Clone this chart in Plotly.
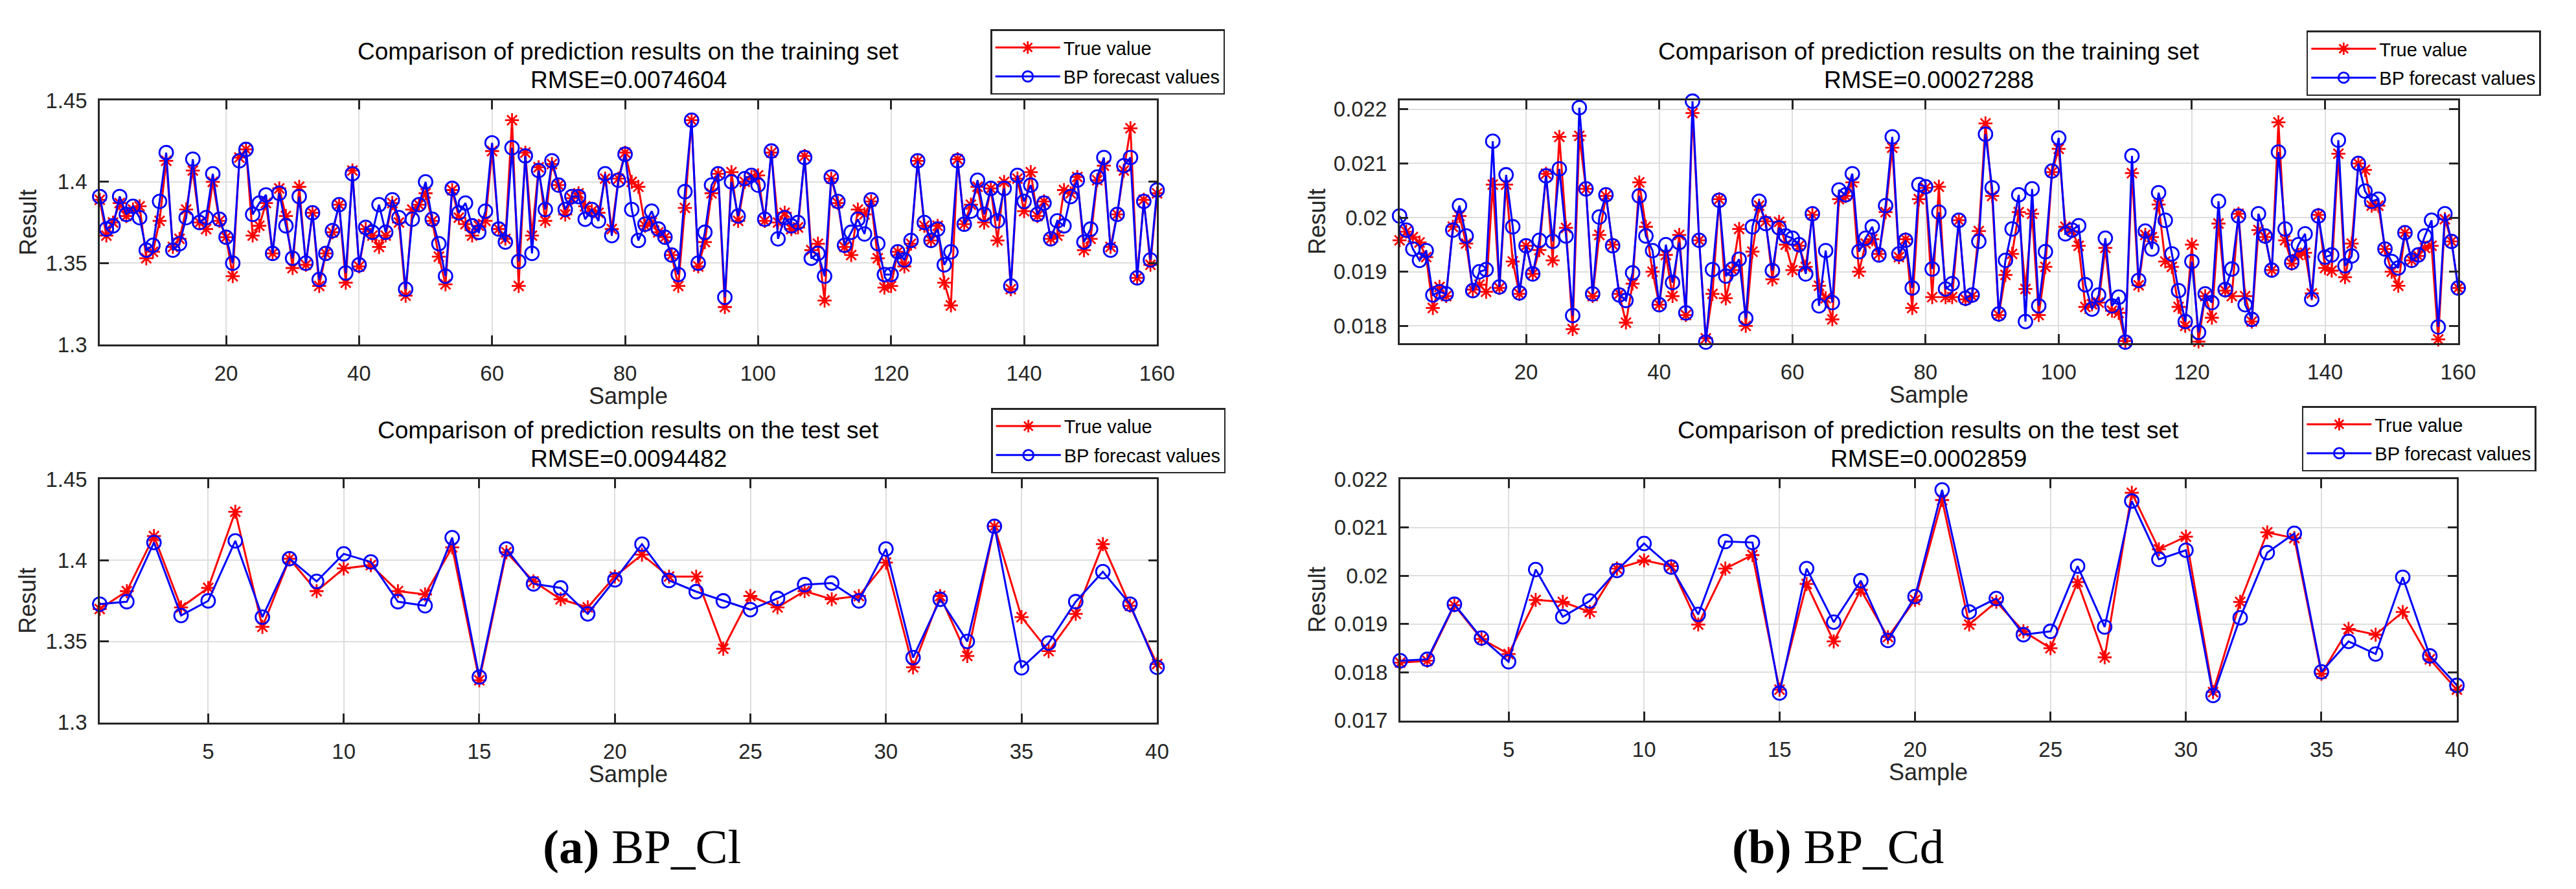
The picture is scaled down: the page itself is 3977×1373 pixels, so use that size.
import plotly.graph_objects as go

W, H = 3977, 1373

# ---------------- data ----------------
samples_train = list(range(1, 161))
samples_test = list(range(1, 41))

cl_train_true = [
    1.389, 1.367, 1.375, 1.387, 1.379, 1.383, 1.385, 1.353, 1.357, 1.376,
    1.413, 1.360, 1.365, 1.383, 1.407, 1.375, 1.371, 1.400, 1.376, 1.366,
    1.342, 1.415, 1.420, 1.367, 1.373, 1.387, 1.356, 1.396, 1.379, 1.347,
    1.397, 1.349, 1.381, 1.336, 1.356, 1.369, 1.386, 1.338, 1.407, 1.348,
    1.371, 1.367, 1.360, 1.367, 1.387, 1.375, 1.330, 1.383, 1.386, 1.393,
    1.376, 1.354, 1.337, 1.395, 1.378, 1.374, 1.367, 1.373, 1.376, 1.419,
    1.371, 1.365, 1.438, 1.336, 1.418, 1.367, 1.409, 1.376, 1.411, 1.398,
    1.380, 1.390, 1.393, 1.385, 1.382, 1.381, 1.402, 1.371, 1.402, 1.418,
    1.400, 1.397, 1.373, 1.375, 1.369, 1.366, 1.355, 1.336, 1.384, 1.438,
    1.348, 1.363, 1.393, 1.405, 1.323, 1.406, 1.376, 1.400, 1.403, 1.404,
    1.376, 1.418, 1.375, 1.381, 1.371, 1.372, 1.416, 1.358, 1.362, 1.327,
    1.402, 1.387, 1.360, 1.355, 1.383, 1.380, 1.388, 1.353, 1.335, 1.336,
    1.357, 1.348, 1.362, 1.413, 1.373, 1.364, 1.373, 1.338, 1.324, 1.414,
    1.374, 1.386, 1.397, 1.375, 1.396, 1.364, 1.400, 1.334, 1.402, 1.382,
    1.406, 1.379, 1.388, 1.365, 1.367, 1.395, 1.393, 1.403, 1.358, 1.365,
    1.401, 1.410, 1.360, 1.380, 1.407, 1.433, 1.341, 1.389, 1.349, 1.393,
]
cl_train_pred = [
    1.391, 1.371, 1.373, 1.391, 1.380, 1.385, 1.378, 1.358, 1.361, 1.388,
    1.418, 1.358, 1.362, 1.378, 1.414, 1.375, 1.378, 1.405, 1.377, 1.366,
    1.350, 1.413, 1.420, 1.380, 1.387, 1.392, 1.356, 1.393, 1.373, 1.353,
    1.391, 1.350, 1.381, 1.340, 1.356, 1.370, 1.386, 1.344, 1.405, 1.349,
    1.372, 1.369, 1.386, 1.369, 1.389, 1.378, 1.334, 1.377, 1.386, 1.400,
    1.377, 1.362, 1.342, 1.396, 1.381, 1.387, 1.373, 1.369, 1.382, 1.424,
    1.371, 1.363, 1.421, 1.351, 1.416, 1.356, 1.407, 1.383, 1.413, 1.398,
    1.383, 1.391, 1.391, 1.377, 1.383, 1.376, 1.405, 1.367, 1.401, 1.417,
    1.383, 1.364, 1.374, 1.382, 1.371, 1.366, 1.355, 1.343, 1.394, 1.438,
    1.350, 1.369, 1.398, 1.405, 1.329, 1.400, 1.379, 1.402, 1.404, 1.398,
    1.377, 1.419, 1.365, 1.378, 1.373, 1.375, 1.415, 1.353, 1.356, 1.342,
    1.403, 1.388, 1.361, 1.369, 1.377, 1.368, 1.389, 1.362, 1.343, 1.343,
    1.357, 1.352, 1.364, 1.413, 1.375, 1.364, 1.371, 1.349, 1.357, 1.413,
    1.374, 1.382, 1.401, 1.380, 1.396, 1.376, 1.396, 1.336, 1.404, 1.388,
    1.398, 1.380, 1.387, 1.365, 1.376, 1.373, 1.391, 1.401, 1.363, 1.371,
    1.403, 1.415, 1.358, 1.380, 1.410, 1.415, 1.341, 1.388, 1.352, 1.395,
]

cl_test_true = [
    1.370, 1.381, 1.415, 1.371, 1.383, 1.430, 1.359, 1.401, 1.381, 1.395,
    1.397, 1.381, 1.379, 1.408, 1.326, 1.405, 1.387, 1.376, 1.371, 1.390,
    1.4035, 1.390, 1.390, 1.3455, 1.378, 1.371, 1.381, 1.376, 1.378, 1.3986,
    1.334, 1.378, 1.341, 1.421, 1.365, 1.344, 1.367, 1.410, 1.372, 1.336,
]
cl_test_pred = [
    1.373, 1.3745, 1.411, 1.366, 1.375, 1.412, 1.365, 1.401, 1.387, 1.404,
    1.399, 1.3745, 1.372, 1.414, 1.328, 1.407, 1.3855, 1.383, 1.367, 1.388,
    1.410, 1.3876, 1.3807, 1.375, 1.3696, 1.3765, 1.385, 1.386, 1.375, 1.407,
    1.340, 1.376, 1.350, 1.421, 1.3337, 1.349, 1.3745, 1.393, 1.373, 1.334,
]

cd_train_true = [
    0.01958, 0.01974, 0.01964, 0.01954, 0.01927, 0.01833, 0.01872, 0.01855, 0.01983, 0.02003,
    0.01952, 0.01867, 0.01876, 0.01863, 0.02061, 0.01870, 0.02061, 0.01919, 0.01859, 0.01948,
    0.01896, 0.01940, 0.02081, 0.01921, 0.02149, 0.01981, 0.01794, 0.02151, 0.02053, 0.01855,
    0.01968, 0.02040, 0.01950, 0.01859, 0.01806, 0.01878, 0.02065, 0.01983, 0.01900, 0.01839,
    0.01931, 0.01855, 0.01968, 0.01820, 0.02193, 0.01958, 0.01777, 0.01859, 0.02034, 0.01851,
    0.01903, 0.01979, 0.01800, 0.01937, 0.02022, 0.01993, 0.01886, 0.01992, 0.01950, 0.01903,
    0.01948, 0.01909, 0.02005, 0.01874, 0.01851, 0.01812, 0.02034, 0.02040, 0.02065, 0.01900,
    0.01952, 0.01960, 0.01933, 0.02010, 0.02129, 0.01927, 0.01960, 0.01833, 0.02034, 0.02055,
    0.01853, 0.02057, 0.01853, 0.01853, 0.01995, 0.01849, 0.01855, 0.01975, 0.02174, 0.02040,
    0.01820, 0.01894, 0.01933, 0.02010, 0.01868, 0.02007, 0.01820, 0.01909, 0.02084, 0.02127,
    0.01983, 0.01975, 0.01948, 0.01835, 0.01840, 0.01843, 0.01944, 0.01828, 0.01824, 0.01772,
    0.02082, 0.01875, 0.01968, 0.01964, 0.02024, 0.01919, 0.01909, 0.01835, 0.01800, 0.01950,
    0.01771, 0.01855, 0.01815, 0.01989, 0.01865, 0.01855, 0.02007, 0.01855, 0.01808, 0.01977,
    0.01964, 0.01903, 0.02176, 0.01958, 0.01915, 0.01931, 0.01935, 0.01860, 0.02005, 0.01907,
    0.01902, 0.02118, 0.01890, 0.01952, 0.02100, 0.02088, 0.02022, 0.02022, 0.01942, 0.01900,
    0.01874, 0.01972, 0.01921, 0.01929, 0.01944, 0.01948, 0.01775, 0.01997, 0.01956, 0.01870,
]
cd_train_pred = [
    0.02003, 0.01977, 0.01942, 0.01921, 0.01939, 0.01857, 0.01863, 0.01859, 0.01977, 0.02022,
    0.01966, 0.01865, 0.01900, 0.01904, 0.02141, 0.01872, 0.02079, 0.01983, 0.01861, 0.01948,
    0.01896, 0.01958, 0.02077, 0.01956, 0.02090, 0.01966, 0.01819, 0.02203, 0.02053, 0.01859,
    0.02001, 0.02042, 0.01948, 0.01857, 0.01847, 0.01898, 0.02040, 0.01966, 0.01939, 0.01839,
    0.01950, 0.01880, 0.01954, 0.01824, 0.02215, 0.01958, 0.01770, 0.01904, 0.02032, 0.01892,
    0.01905, 0.01923, 0.01814, 0.01983, 0.02030, 0.01989, 0.01902, 0.01981, 0.01966, 0.01962,
    0.01950, 0.01896, 0.02007, 0.01837, 0.01939, 0.01843, 0.02051, 0.02042, 0.02081, 0.01937,
    0.01962, 0.01983, 0.01931, 0.02022, 0.02149, 0.01933, 0.01958, 0.01870, 0.02061, 0.02057,
    0.01905, 0.02010, 0.01868, 0.01878, 0.01995, 0.01851, 0.01857, 0.01956, 0.02154, 0.02055,
    0.01822, 0.01921, 0.01979, 0.02042, 0.01808, 0.02053, 0.01837, 0.01937, 0.02086, 0.02147,
    0.01970, 0.01977, 0.01985, 0.01876, 0.01831, 0.01857, 0.01962, 0.01837, 0.01853, 0.01770,
    0.02114, 0.01884, 0.01975, 0.01942, 0.02046, 0.01995, 0.01933, 0.01865, 0.01808, 0.01919,
    0.01788, 0.01859, 0.01843, 0.02030, 0.01867, 0.01905, 0.02003, 0.01839, 0.01812, 0.02007,
    0.01966, 0.01903, 0.02121, 0.01979, 0.01917, 0.01950, 0.01970, 0.01849, 0.02003, 0.01927,
    0.01931, 0.02143, 0.01911, 0.01929, 0.02100, 0.02049, 0.02030, 0.02034, 0.01942, 0.01919,
    0.01907, 0.01972, 0.01921, 0.01931, 0.01966, 0.01995, 0.01798, 0.02007, 0.01956, 0.01870,
]

cd_test_true = [
    0.01820, 0.01824, 0.01939, 0.01869, 0.01838, 0.01950, 0.01946, 0.01925, 0.02015, 0.02032,
    0.02020, 0.01899, 0.02015, 0.02043, 0.01764, 0.01983, 0.01864, 0.01971, 0.01873, 0.01950,
    0.02157, 0.01899, 0.01946, 0.01885, 0.01850, 0.01987, 0.01831, 0.02172, 0.02055, 0.02081,
    0.01759, 0.01946, 0.02090, 0.02078, 0.01797, 0.01890, 0.01878, 0.01925, 0.01827, 0.01764,
]
cd_test_pred = [
    0.01824, 0.01827, 0.01941, 0.01871, 0.01822, 0.02013, 0.01915, 0.01948, 0.02011, 0.02067,
    0.02018, 0.01920, 0.02071, 0.02069, 0.01757, 0.02015, 0.01904, 0.01990, 0.01866, 0.01957,
    0.02178, 0.01925, 0.01953, 0.01878, 0.01885, 0.02020, 0.01894, 0.02155, 0.02034, 0.02053,
    0.01752, 0.01913, 0.02048, 0.02088, 0.01801, 0.01864, 0.01838, 0.01997, 0.01834, 0.01773,
]

train_title = "Comparison of prediction results on the training set"
test_title = "Comparison of prediction results on the test set"
rmse_labels = ["RMSE=0.0074604", "RMSE=0.0094482", "RMSE=0.00027288", "RMSE=0.0002859"]
series_names = ["True value", "BP forecast values"]
captions = ["<b>(a)</b> BP_Cl", "<b>(b)</b> BP_Cd"]
x_label = "Sample"
y_label = "Result"

# ---------------- layout helpers (pixel -> paper) ----------------
def px(x):
    return x / W

def py(y):
    return 1 - y / H

SANS = "Liberation Sans, Arial, sans-serif"
SERIF = "Liberation Serif, Times New Roman, serif"
INK = "#262626"

panels = [
    dict(x=samples_train, t=cl_train_true, p=cl_train_pred, xd=(147, 1791), yd=(133, 520),
         xr=[1, 160], xt=list(range(20, 161, 20)), yr=[1.3, 1.45], yt=[1.3, 1.35, 1.4, 1.45],
         title=train_title, rmse=rmse_labels[0], leg=(1532, 20), ylab_x=36),
    dict(x=samples_test, t=cl_test_true, p=cl_test_pred, xd=(147, 1791), yd=(734, 1120),
         xr=[1, 40], xt=list(range(5, 41, 5)), yr=[1.3, 1.45], yt=[1.3, 1.35, 1.4, 1.45],
         title=test_title, rmse=rmse_labels[1], leg=(1533, 621), ylab_x=34),
    dict(x=samples_train, t=cd_train_true, p=cd_train_pred, xd=(2168, 3814), yd=(133, 518),
         xr=[1, 160], xt=list(range(20, 161, 20)), yr=[0.01768, 0.02216],
         yt=[0.018, 0.019, 0.020, 0.021, 0.022],
         title=train_title, rmse=rmse_labels[2], leg=(3578, 22), ylab_x=2040),
    dict(x=samples_test, t=cd_test_true, p=cd_test_pred, xd=(2169, 3812), yd=(734, 1117),
         xr=[1, 40], xt=list(range(5, 41, 5)), yr=[0.017, 0.022],
         yt=[0.017, 0.018, 0.019, 0.020, 0.021, 0.022],
         title=test_title, rmse=rmse_labels[3], leg=(3571, 618), ylab_x=2040),
]

fig = go.Figure()
annotations = []
layout_axes = {}

for i, pn in enumerate(panels):
    k = "" if i == 0 else str(i + 1)
    legname = "legend" if i == 0 else f"legend{i + 1}"
    fig.add_trace(go.Scatter(
        x=pn["x"], y=pn["t"], mode="lines+markers", name=series_names[0],
        xaxis="x" + k, yaxis="y" + k, legend=legname, legendgroup=f"t{i}",
        cliponaxis=False,
        line=dict(color="#ff0000", width=3),
        marker=dict(symbol="asterisk-open", size=18, color="#ff0000",
                    line=dict(color="#ff0000", width=2.8)),
    ))
    fig.add_trace(go.Scatter(
        x=pn["x"], y=pn["p"], mode="lines+markers", name=series_names[1],
        xaxis="x" + k, yaxis="y" + k, legend=legname, legendgroup=f"p{i}",
        cliponaxis=False,
        line=dict(color="#0000ff", width=3),
        marker=dict(symbol="circle-open", size=21, color="#0000ff",
                    line=dict(color="#0000ff", width=2.8)),
    ))
    common = dict(
        showline=True, linecolor=INK, linewidth=2.5, mirror="ticks",
        ticks="inside", ticklen=14, tickwidth=2.5, tickcolor=INK,
        showgrid=True, gridcolor="#dedede", gridwidth=2,
        zeroline=False, tickfont=dict(family=SANS, size=33, color=INK),
    )
    layout_axes["xaxis" + k] = dict(
        common, domain=[px(pn["xd"][0]), px(pn["xd"][1])], range=pn["xr"],
        tickmode="array", tickvals=pn["xt"], anchor="y" + k, ticklabelstandoff=14,
    )
    layout_axes["yaxis" + k] = dict(
        common, domain=[py(pn["yd"][1]), py(pn["yd"][0])], range=pn["yr"],
        tickmode="array", tickvals=pn["yt"], anchor="x" + k, ticklabelstandoff=10,
    )
    layout_axes[legname] = dict(
        x=px(pn["leg"][0]), y=py(pn["leg"][1]), xanchor="left", yanchor="top",
        bgcolor="white", bordercolor=INK, borderwidth=2.5,
        font=dict(family=SANS, size=29, color="#000"), itemwidth=100,
        tracegroupgap=4, entrywidth=250,
    )
    xc = (pn["xd"][0] + pn["xd"][1]) / 2
    ytop = pn["yd"][0]
    ybot = pn["yd"][1]
    annotations += [
        dict(text=pn["title"], x=px(xc), y=py(ytop - 78), xref="paper", yref="paper",
             showarrow=False, xanchor="center", yanchor="middle",
             font=dict(family=SANS, size=37, color="#000")),
        dict(text=pn["rmse"], x=px(xc), y=py(ytop - 33), xref="paper", yref="paper",
             showarrow=False, xanchor="center", yanchor="middle",
             font=dict(family=SANS, size=37, color="#000")),
        dict(text=x_label, x=px(xc), y=py(ybot + 82), xref="paper", yref="paper",
             showarrow=False, xanchor="center", yanchor="middle",
             font=dict(family=SANS, size=36, color=INK)),
        dict(text=y_label, x=px(pn["ylab_x"]), y=py((ytop + ybot) / 2), xref="paper", yref="paper",
             showarrow=False, xanchor="center", yanchor="middle", textangle=-90,
             font=dict(family=SANS, size=36, color=INK)),
    ]

annotations += [
    dict(text=captions[0], x=px(990), y=py(1317), xref="paper", yref="paper",
         showarrow=False, xanchor="center", yanchor="middle",
         font=dict(family=SERIF, size=75, color="#000")),
    dict(text=captions[1], x=px(2850), y=py(1317), xref="paper", yref="paper",
         showarrow=False, xanchor="center", yanchor="middle",
         font=dict(family=SERIF, size=75, color="#000")),
]

fig.update_layout(
    width=W, height=H, margin=dict(l=0, r=0, t=0, b=0),
    paper_bgcolor="white", plot_bgcolor="white",
    annotations=annotations, showlegend=True,
    **layout_axes,
)

fig.write_html("out.html")
